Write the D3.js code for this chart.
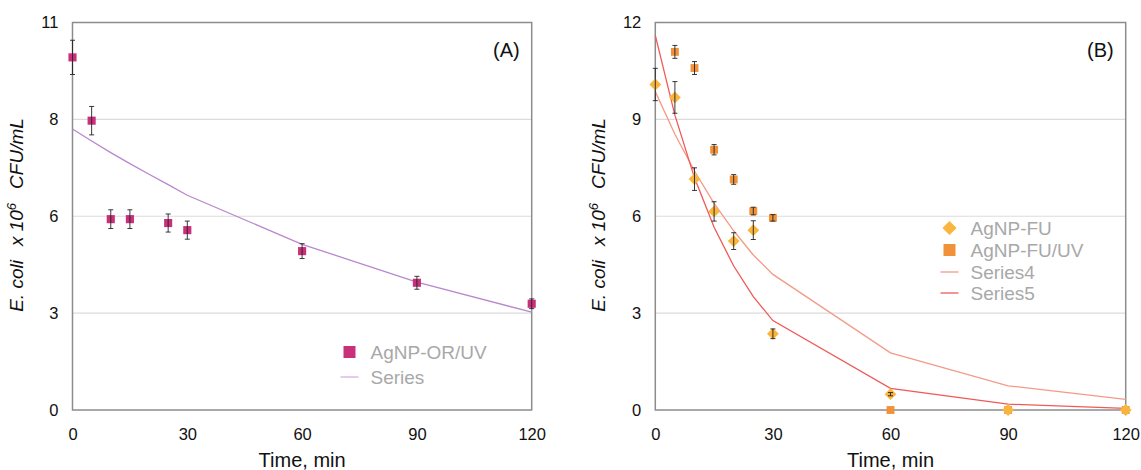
<!DOCTYPE html>
<html>
<head>
<meta charset="utf-8">
<script src="https://cdn.jsdelivr.net/npm/d3@7"></script>
<style>
  body { margin: 0; background: #fff; }
  svg text { font-family: "Liberation Sans", Arial, Helvetica, sans-serif; }
</style>
</head>
<body>
<svg id="chart"></svg>
<script>
//canvas info
var width = 1141;
var height = 470;

//Panel A data (E. coli x10^6 CFU/mL)
var timesA = [0, 5, 10, 15, 25, 30, 60, 90, 120];
var orUV = [10.92, 8.96, 5.91, 5.91, 5.79, 5.57, 4.92, 3.94, 3.29];
var orUVErr = [0.53, 0.44, 0.29, 0.29, 0.28, 0.28, 0.23, 0.2, 0.15];
var fitTimes = [0, 5, 10, 15, 20, 25, 30, 60, 90, 120];
var fitA = [8.70, 8.33, 7.97, 7.63, 7.30, 6.98, 6.65, 5.13, 3.96, 3.03];

//Panel B data
var timesB = [0, 5, 10, 15, 20, 25, 30, 60, 90, 120];
var fu = [10.08, 9.68, 7.15, 6.15, 5.23, 5.57, 2.36, 0.49, 0, 0];
var fuErr = [0.5, 0.49, 0.35, 0.3, 0.26, 0.29, 0.15, 0.05, 0, 0];
var timesUV = [5, 10, 15, 20, 25, 30, 60, 90, 120];
var fuUV = [11.09, 10.59, 8.06, 7.14, 6.16, 5.95, 0, 0, 0];
var fuUVErr = [0.2, 0.2, 0.16, 0.15, 0.12, 0.1, 0, 0, 0];
var series4 = [9.86, 8.54, 7.40, 6.40, 5.55, 4.80, 4.20, 1.77, 0.75, 0.33];
var series5 = [11.6, 9.13, 7.19, 5.66, 4.46, 3.51, 2.77, 0.67, 0.18, 0.05];

//axis ticks
var xTicks = [0, 30, 60, 90, 120];
var yTicks = [0, 3, 6, 9, 12];
var yLabelsA = ["0", "3", "6", "8", "11"];
var yLabelsB = ["0", "3", "6", "9", "12"];

var svg = d3.select('#chart')
    .attr("width", width)
    .attr("height", height);

function zip(xs, ys, es) {
    var out = [];
    for (var i = 0; i < xs.length; i++) {
        out.push({x: xs[i], y: ys[i], e: es ? es[i] : 0});
    }
    return out;
}

//draws the frame, grid, axes and titles for one panel, returns scales
function draw_panel(left, right, yLabels, tag) {
    var top = 22.5, bottom = 410;
    var x = d3.scaleLinear().domain([0, 120]).range([left, right]);
    var y = d3.scaleLinear().domain([0, 12]).range([bottom, top]);
    var g = svg.append("g");

    //grid lines
    g.selectAll(".grid")
        .data(yTicks.slice(1, -1))
        .enter().append("line")
        .attr("x1", left).attr("x2", right)
        .attr("y1", function(d) { return y(d); })
        .attr("y2", function(d) { return y(d); })
        .attr("stroke", "#dcdcdc")
        .attr("stroke-width", 1.2);

    //frame
    g.append("rect")
        .attr("x", left).attr("y", top)
        .attr("width", right - left).attr("height", bottom - top)
        .attr("fill", "none")
        .attr("stroke", "#8c8c8c")
        .attr("stroke-width", 1.5);

    var ax = g.append("g")
        .attr("transform", "translate(0," + bottom + ")")
        .call(d3.axisBottom(x).tickValues(xTicks).tickSize(0).tickPadding(18));
    ax.select(".domain").remove();
    ax.selectAll("text").attr("font-size", 16.5).attr("fill", "#111");

    var ay = g.append("g")
        .attr("transform", "translate(" + left + ",0)")
        .call(d3.axisLeft(y).tickValues(yTicks).tickSize(0).tickPadding(14)
            .tickFormat(function(d, i) { return yLabels[i]; }));
    ay.select(".domain").remove();
    ay.selectAll("text").attr("font-size", 16.5).attr("fill", "#111");

    //x title
    g.append("text")
        .attr("x", (left + right) / 2)
        .attr("y", 467)
        .attr("text-anchor", "middle")
        .attr("font-size", 20)
        .attr("fill", "#111")
        .text("Time, min");

    //y title
    var yt = g.append("text")
        .attr("transform", "translate(" + (left - 50) + ",215) rotate(-90)")
        .attr("text-anchor", "middle")
        .attr("font-size", 19)
        .attr("font-style", "italic")
        .attr("fill", "#111");
    yt.append("tspan").text("E. coli");
    yt.append("tspan").attr("dx", 14).text("x 10");
    yt.append("tspan").attr("dy", -7).attr("font-size", 13).text("6");
    yt.append("tspan").attr("dy", 7).attr("dx", 14).text("CFU/mL");

    //panel tag
    g.append("text")
        .attr("x", right - 12)
        .attr("y", 57)
        .attr("text-anchor", "end")
        .attr("font-size", 20)
        .attr("fill", "#111")
        .text(tag);

    return {x: x, y: y};
}

function draw_line(s, xs, ys, color) {
    var line = d3.line()
        .x(function(d) { return s.x(d.x); })
        .y(function(d) { return s.y(d.y); });
    svg.append("path")
        .datum(zip(xs, ys))
        .attr("d", line)
        .attr("fill", "none")
        .attr("stroke", color)
        .attr("stroke-width", 1.3);
}

function draw_errors(s, pts) {
    var g = svg.append("g").attr("stroke", "#222").attr("stroke-width", 0.9);
    pts.filter(function(d) { return d.e > 0; }).forEach(function(d) {
        var cx = s.x(d.x), y1 = s.y(d.y + d.e), y2 = s.y(d.y - d.e);
        g.append("line").attr("x1", cx).attr("x2", cx).attr("y1", y1).attr("y2", y2);
        g.append("line").attr("x1", cx - 2.5).attr("x2", cx + 2.5).attr("y1", y1).attr("y2", y1);
        g.append("line").attr("x1", cx - 2.5).attr("x2", cx + 2.5).attr("y1", y2).attr("y2", y2);
    });
}

//squares, or diamonds when rot is 45
function draw_points(s, pts, size, color, rot) {
    var sym = d3.symbol().type(d3.symbolSquare).size(size);
    svg.append("g").selectAll("path")
        .data(pts)
        .enter().append("path")
        .attr("d", sym)
        .attr("transform", function(d) {
            return "translate(" + s.x(d.x) + "," + s.y(d.y) + ") rotate(" + (rot || 0) + ")";
        })
        .attr("fill", color);
}

function draw_legend(x0, rows) {
    var g = svg.append("g");
    rows.forEach(function(r) {
        if (r.kind === "square") {
            g.append("rect").attr("x", x0 - 6).attr("y", r.y - 6)
                .attr("width", 12).attr("height", 12).attr("fill", r.color);
        } else if (r.kind === "diamond") {
            g.append("path").attr("d", d3.symbol().type(d3.symbolSquare).size(100))
                .attr("transform", "translate(" + x0 + "," + r.y + ") rotate(45)")
                .attr("fill", r.color);
        } else {
            g.append("line").attr("x1", x0 - 9).attr("x2", x0 + 9)
                .attr("y1", r.y).attr("y2", r.y)
                .attr("stroke", r.color).attr("stroke-width", 1.3);
        }
        g.append("text").attr("x", x0 + 21).attr("y", r.y + 7)
            .attr("font-size", 19).attr("fill", "#a8a8a8").text(r.label);
    });
}

//Panel A
var sA = draw_panel(72.5, 531.7, yLabelsA, "(A)");
draw_line(sA, fitTimes, fitA, "#b987cf");
var ptsA = zip(timesA, orUV, orUVErr);
draw_points(sA, ptsA, 66, "#c9307a");
draw_errors(sA, ptsA);
draw_legend(349.5, [
    {kind: "square", y: 352, color: "#c9307a", label: "AgNP-OR/UV"},
    {kind: "line", y: 377, color: "#d9aee3", label: "Series"}
]);

//Panel B
var sB = draw_panel(655.3, 1125.7, yLabelsB, "(B)");
draw_line(sB, timesB, series4, "#f49a86");
draw_line(sB, timesB, series5, "#ef5a58");
var ptsUV = zip(timesUV, fuUV, fuUVErr);
var ptsFU = zip(timesB, fu, fuErr);
draw_points(sB, ptsUV, 62, "#f0923a");
draw_points(sB, ptsFU, 70, "#f9b53d", 45);
draw_errors(sB, ptsUV);
draw_errors(sB, ptsFU);
draw_legend(949.5, [
    {kind: "diamond", y: 228, color: "#f9b53d", label: "AgNP-FU"},
    {kind: "square", y: 250, color: "#f0923a", label: "AgNP-FU/UV"},
    {kind: "line", y: 272, color: "#f49a86", label: "Series4"},
    {kind: "line", y: 293, color: "#ef5a58", label: "Series5"}
]);
</script>
</body>
</html>
